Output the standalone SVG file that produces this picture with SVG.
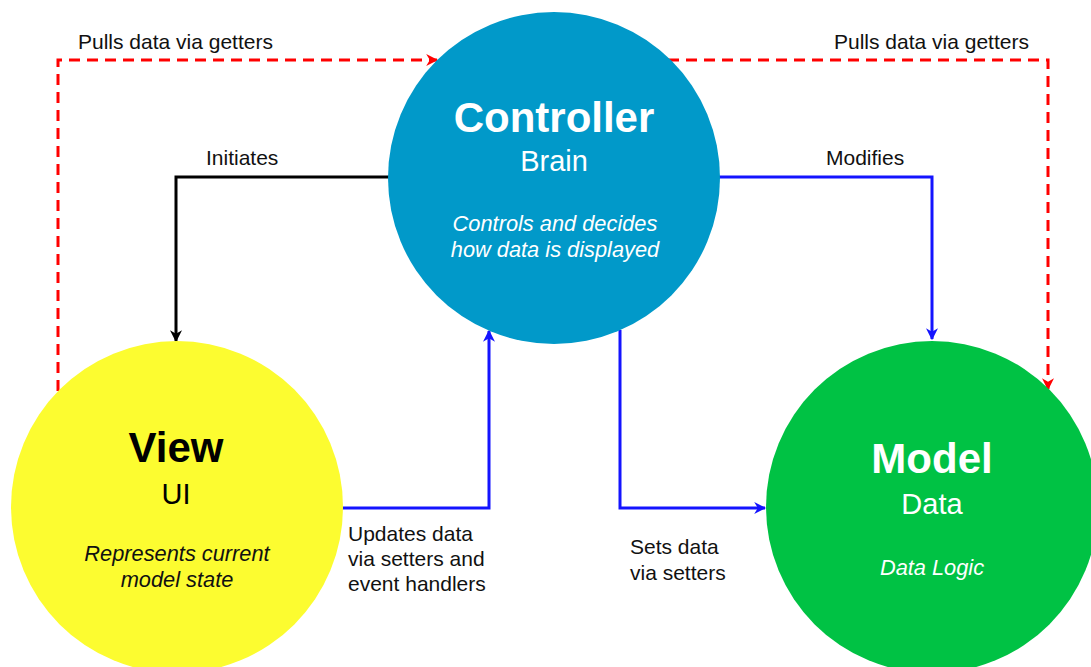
<svg xmlns="http://www.w3.org/2000/svg" width="1091" height="667" viewBox="0 0 1091 667">
<defs>
<marker id="arR" viewBox="0 0 10 10" refX="9" refY="5" markerWidth="4" markerHeight="4" orient="auto" markerUnits="strokeWidth"><path d="M0,0 L10,5 L0,10 L3,5 z" fill="#ff0000"/></marker>
<marker id="arB" viewBox="0 0 10 10" refX="9" refY="5" markerWidth="4" markerHeight="4" orient="auto" markerUnits="strokeWidth"><path d="M0,0 L10,5 L0,10 L3,5 z" fill="#1414ff"/></marker>
<marker id="arK" viewBox="0 0 10 10" refX="9" refY="5" markerWidth="4" markerHeight="4" orient="auto" markerUnits="strokeWidth"><path d="M0,0 L10,5 L0,10 L3,5 z" fill="#000"/></marker>
</defs>
<style>
text{font-family:"Liberation Sans",Arial,sans-serif}
.lbl{font-size:21px;fill:#111}
.title{font-size:42px;font-weight:bold;text-anchor:middle}
.sub{font-size:29px;text-anchor:middle}
.desc{font-size:21.8px;font-style:italic;text-anchor:middle}
.red{fill:none;stroke:#ff0000;stroke-width:3;stroke-dasharray:11 7;marker-end:url(#arR)}
.blue{fill:none;stroke:#1414ff;stroke-width:3;marker-end:url(#arB)}
.black{fill:none;stroke:#000;stroke-width:3;marker-end:url(#arK)}
</style>
<rect width="1091" height="667" fill="#fff"/>
<g id="connectors">
<path class="red" d="M58,391 L58,60 L437,60"/>
<path class="red" d="M668,60 L1048,60 L1048,389"/>
<path class="black" d="M390,177 L176,177 L176,341"/>
<path class="blue" d="M718,177 L932,177 L932,339"/>
<path class="blue" d="M341,508 L489,508 L489,331"/>
<path class="blue" d="M620,330 L620,508 L765,508"/>
</g>
<g id="controller">
<circle cx="554" cy="178" r="166" fill="#0199c9"/>
<text class="title" x="554" y="132" fill="#fff">Controller</text>
<text class="sub" x="554" y="171" fill="#fff">Brain</text>
<text class="desc" x="555" y="231" fill="#fff">Controls and decides</text>
<text class="desc" x="555" y="257" fill="#fff">how data is displayed</text>
</g>
<g id="view">
<circle cx="177" cy="507" r="166" fill="#fcfc30"/>
<text class="title" x="176" y="462" fill="#000">View</text>
<text class="sub" x="176" y="504" fill="#000">UI</text>
<text class="desc" x="177" y="561" fill="#111">Represents current</text>
<text class="desc" x="177" y="587" fill="#111">model state</text>
</g>
<g id="model">
<circle cx="932" cy="507" r="166" fill="#00c244"/>
<text class="title" x="932" y="473" fill="#fff">Model</text>
<text class="sub" x="932" y="514" fill="#fff">Data</text>
<text class="desc" x="932" y="575" fill="#fff">Data Logic</text>
</g>
<g id="labels">
<text class="lbl" x="78" y="49">Pulls data via getters</text>
<text class="lbl" x="834" y="49">Pulls data via getters</text>
<text class="lbl" x="206" y="165">Initiates</text>
<text class="lbl" x="826" y="165">Modifies</text>
<text class="lbl" x="348" y="541">Updates data</text>
<text class="lbl" x="348" y="566">via setters and</text>
<text class="lbl" x="348" y="591">event handlers</text>
<text class="lbl" x="630" y="554">Sets data</text>
<text class="lbl" x="630" y="580">via setters</text>
</g>
</svg>
